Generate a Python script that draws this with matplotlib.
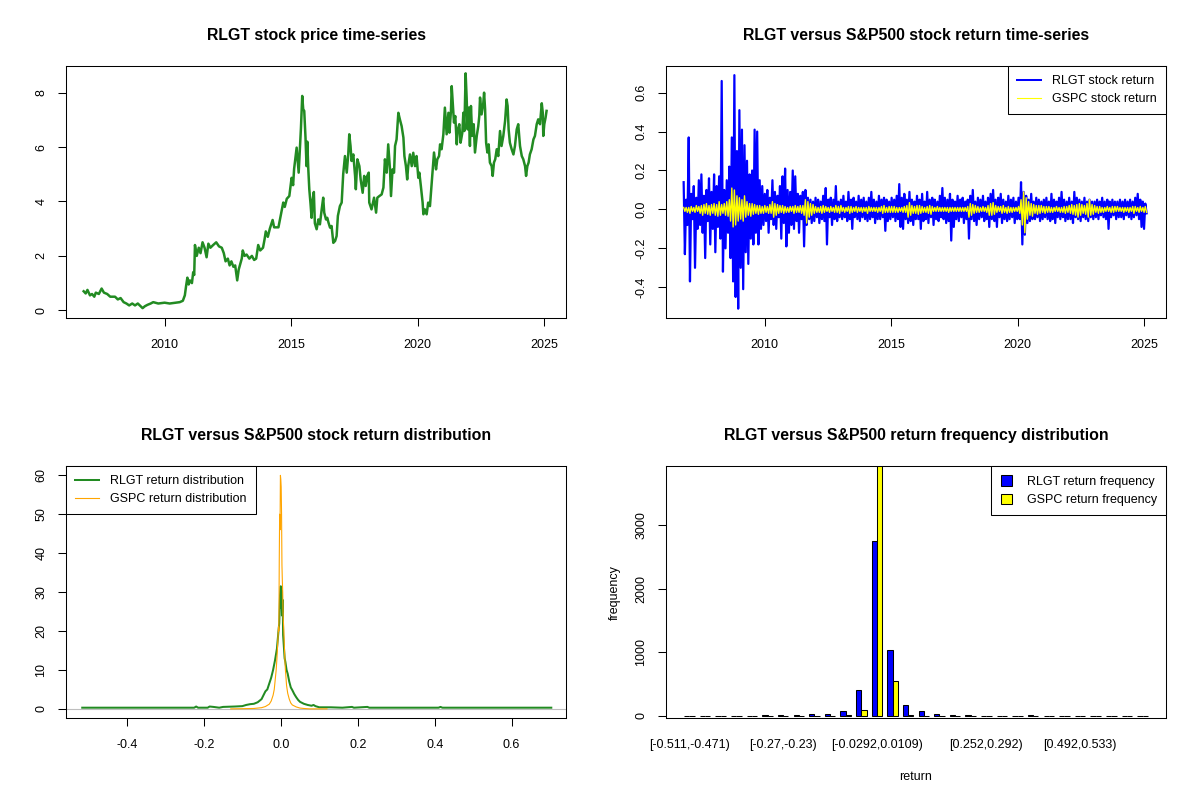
import numpy as np
import pandas as pd
import matplotlib
matplotlib.use("Agg")
import matplotlib.pyplot as plt
from matplotlib.lines import Line2D
from matplotlib.patches import Patch

plt.rcParams["font.family"] = ["Liberation Sans", "DejaVu Sans"]

# ── Data ─────────────────────────────────────────────────────────────────────
# RLGT closing price, decimal year / price
price_year = [
    2006.80, 2006.88, 2006.95, 2007.05, 2007.13, 2007.22, 2007.28, 2007.40, 2007.51, 2007.60,
    2007.73, 2007.85, 2008.04, 2008.15, 2008.26, 2008.38, 2008.49, 2008.60, 2008.72, 2008.83,
    2008.94, 2009.05, 2009.13, 2009.22, 2009.32, 2009.45, 2009.55, 2009.75, 2010.00, 2010.20,
    2010.45, 2010.60, 2010.72, 2010.80, 2010.85, 2010.90, 2010.95, 2011.00, 2011.08, 2011.13,
    2011.17, 2011.20, 2011.27, 2011.35, 2011.42, 2011.50, 2011.58, 2011.66, 2011.73, 2011.81,
    2011.92, 2012.04, 2012.15, 2012.26, 2012.34, 2012.41, 2012.50, 2012.57, 2012.64, 2012.72,
    2012.79, 2012.87, 2012.93, 2012.99, 2013.05, 2013.09, 2013.16, 2013.24, 2013.35, 2013.45,
    2013.54, 2013.62, 2013.70, 2013.78, 2013.89, 2013.95, 2014.00, 2014.08, 2014.16, 2014.27,
    2014.33, 2014.50, 2014.69, 2014.75, 2014.83, 2014.93, 2015.02, 2015.08, 2015.12, 2015.22,
    2015.30, 2015.39, 2015.44, 2015.48, 2015.52, 2015.57, 2015.61, 2015.64, 2015.68, 2015.72,
    2015.77, 2015.81, 2015.85, 2015.90, 2015.94, 2016.01, 2016.08, 2016.14, 2016.21, 2016.27,
    2016.31, 2016.38, 2016.43, 2016.48, 2016.54, 2016.60, 2016.67, 2016.74, 2016.80, 2016.85,
    2016.93, 2017.00, 2017.06, 2017.13, 2017.20, 2017.26, 2017.30, 2017.35, 2017.39, 2017.46,
    2017.53, 2017.56, 2017.62, 2017.70, 2017.75, 2017.83, 2017.89, 2017.95, 2018.01, 2018.07,
    2018.09, 2018.18, 2018.28, 2018.36, 2018.41, 2018.49, 2018.58, 2018.65, 2018.71, 2018.78,
    2018.84, 2018.91, 2018.95, 2019.01, 2019.07, 2019.11, 2019.17, 2019.24, 2019.30, 2019.37,
    2019.44, 2019.48, 2019.54, 2019.59, 2019.63, 2019.70, 2019.77, 2019.83, 2019.90, 2019.96,
    2020.03, 2020.07, 2020.13, 2020.20, 2020.23, 2020.29, 2020.36, 2020.42, 2020.49, 2020.53,
    2020.60, 2020.65, 2020.73, 2020.78, 2020.85, 2020.89, 2020.95, 2021.02, 2021.08, 2021.15,
    2021.22, 2021.26, 2021.32, 2021.35, 2021.39, 2021.44, 2021.49, 2021.55, 2021.58, 2021.65,
    2021.70, 2021.77, 2021.81, 2021.85, 2021.90, 2021.94, 2021.98, 2022.02, 2022.07, 2022.11,
    2022.16, 2022.22, 2022.27, 2022.34, 2022.40, 2022.44, 2022.47, 2022.53, 2022.60, 2022.63,
    2022.67, 2022.71, 2022.76, 2022.81, 2022.86, 2022.93, 2022.97, 2023.02, 2023.07, 2023.13,
    2023.19, 2023.26, 2023.32, 2023.39, 2023.46, 2023.52, 2023.56, 2023.60, 2023.65, 2023.72,
    2023.79, 2023.85, 2023.92, 2023.98, 2024.05, 2024.12, 2024.18, 2024.25, 2024.29, 2024.34,
    2024.39, 2024.44, 2024.51, 2024.58, 2024.64, 2024.71, 2024.77, 2024.84, 2024.91, 2024.95,
    2024.97, 2025.01, 2025.06, 2025.10,
]
price_value = [
    0.70, 0.62, 0.75, 0.55, 0.60, 0.50, 0.65, 0.60, 0.80, 0.65,
    0.60, 0.50, 0.50, 0.40, 0.45, 0.30, 0.25, 0.18, 0.25, 0.18,
    0.25, 0.15, 0.08, 0.15, 0.20, 0.25, 0.30, 0.25, 0.28, 0.25,
    0.28, 0.30, 0.35, 0.55, 0.90, 1.20, 0.95, 1.10, 1.00, 1.40,
    1.30, 2.40, 2.00, 2.30, 2.10, 2.50, 2.30, 1.95, 2.45, 2.30,
    2.40, 2.50, 2.35, 2.30, 2.10, 1.80, 1.90, 1.65, 1.80, 1.60,
    1.65, 1.10, 1.50, 1.70, 1.90, 2.20, 2.00, 2.05, 1.90, 2.00,
    1.85, 1.90, 2.40, 2.20, 2.30, 2.60, 2.90, 2.70, 3.00, 3.32,
    3.05, 3.05, 3.96, 3.80, 4.10, 4.20, 4.87, 4.60, 5.20, 5.98,
    5.06, 6.70, 7.88, 7.39, 7.33, 6.35, 5.30, 6.20, 5.20, 4.45,
    3.90, 3.40, 4.05, 4.35, 3.20, 2.98, 3.34, 3.16, 3.71, 4.14,
    3.59, 3.34, 3.40, 3.22, 3.04, 3.10, 2.48, 2.55, 2.73, 3.47,
    3.83, 3.96, 5.00, 5.67, 5.06, 5.73, 6.47, 6.04, 5.49, 5.73,
    4.94, 4.45, 5.55, 5.30, 4.81, 4.32, 4.94, 4.57, 4.94, 5.06,
    3.96, 3.71, 4.14, 3.59, 4.14, 4.20, 4.26, 4.51, 5.55, 5.06,
    6.10, 5.18, 4.20, 5.18, 5.06, 6.04, 6.28, 7.26, 7.02, 6.77,
    6.35, 5.67, 5.30, 4.81, 5.30, 5.73, 5.30, 5.79, 5.30, 5.67,
    4.87, 5.06, 4.57, 3.96, 3.53, 3.71, 3.53, 3.96, 3.83, 4.32,
    5.18, 5.80, 5.18, 5.55, 5.67, 6.10, 5.92, 6.47, 7.45, 6.47,
    7.26, 6.53, 7.33, 8.24, 7.63, 6.90, 7.14, 6.10, 6.59, 6.84,
    6.16, 6.53, 7.26, 6.59, 8.71, 7.82, 6.65, 7.45, 6.04, 7.51,
    6.41, 6.84, 5.80, 6.41, 6.77, 7.14, 7.82, 7.20, 7.63, 8.00,
    7.39, 6.16, 5.80, 6.10, 5.43, 5.30, 4.94, 5.43, 5.55, 5.92,
    5.67, 6.59, 6.04, 6.41, 6.96, 7.75, 7.51, 6.65, 6.16, 5.92,
    5.73, 6.04, 6.65, 6.84, 6.04, 5.67, 5.55, 5.30, 4.94, 5.30,
    5.43, 5.73, 5.92, 6.28, 6.41, 6.84, 7.02, 6.84, 7.61, 7.26,
    6.41, 6.84, 7.08, 7.33,
]

# daily-return envelope, ~20 observations per year, Oct 2006 .. Feb 2025
return_start, return_end = "2006-10-20", "2025-02-07"
rlgt_return = [
    0.14, -0.23, 0.05, -0.08,
    0.37, -0.37, 0.08, -0.05, 0.12, -0.30, 0.06, -0.10, 0.15, -0.08, 0.18, -0.12, 0.07, -0.25, 0.10, -0.06, 0.16, -0.18, 0.09, -0.10,
    0.18, -0.22, 0.12, -0.09, 0.17, -0.15, 0.66, -0.32, 0.10, -0.20, 0.15, -0.12, 0.22, -0.25, 0.37, -0.37, 0.69, -0.45, 0.30, -0.51,
    0.51, -0.30, 0.41, -0.41, 0.33, -0.22, 0.25, -0.28, 0.18, -0.15, 0.20, -0.18, 0.41, -0.12, 0.40, -0.18, 0.15, -0.10, 0.12, -0.08,
    0.08, -0.06, 0.10, -0.12, 0.06, -0.05, 0.15, -0.08, 0.09, -0.10, 0.07, -0.04, 0.12, -0.15, 0.17, -0.07, 0.21, -0.19, 0.10, -0.12,
    0.09, -0.08, 0.20, -0.10, 0.17, -0.06, 0.08, -0.12, 0.07, -0.05, 0.09, -0.19, 0.10, -0.08, 0.06, -0.05, 0.05, -0.07, 0.04, -0.06,
    0.06, -0.04, 0.05, -0.07, 0.04, -0.05, 0.07, -0.06, 0.11, -0.18, 0.05, -0.04, 0.06, -0.08, 0.05, -0.05, 0.12, -0.06, 0.04, -0.04,
    0.05, -0.05, 0.07, -0.04, 0.04, -0.06, 0.09, -0.05, 0.05, -0.10, 0.06, -0.04, 0.04, -0.05, 0.07, -0.06, 0.05, -0.04, 0.06, -0.05,
    0.04, -0.06, 0.06, -0.05, 0.09, -0.04, 0.05, -0.07, 0.04, -0.05, 0.07, -0.05, 0.05, -0.04, 0.06, -0.11, 0.05, -0.06, 0.04, -0.05,
    0.06, -0.04, 0.05, -0.06, 0.07, -0.05, 0.13, -0.09, 0.06, -0.10, 0.08, -0.05, 0.05, -0.07, 0.09, -0.06, 0.05, -0.08, 0.04, -0.05,
    0.07, -0.05, 0.05, -0.10, 0.08, -0.06, 0.04, -0.05, 0.09, -0.07, 0.05, -0.04, 0.06, -0.08, 0.05, -0.05, 0.04, -0.06, 0.07, -0.04,
    0.11, -0.05, 0.06, -0.07, 0.05, -0.06, 0.08, -0.16, 0.05, -0.09, 0.04, -0.05, 0.07, -0.06, 0.05, -0.04, 0.06, -0.07, 0.04, -0.05,
    0.05, -0.15, 0.07, -0.05, 0.10, -0.06, 0.04, -0.08, 0.06, -0.05, 0.05, -0.04, 0.07, -0.06, 0.04, -0.05, 0.06, -0.09, 0.08, -0.05,
    0.10, -0.06, 0.05, -0.09, 0.06, -0.04, 0.08, -0.07, 0.05, -0.05, 0.04, -0.06, 0.07, -0.05, 0.05, -0.04, 0.06, -0.07, 0.04, -0.05,
    0.06, -0.05, 0.14, -0.18, 0.09, -0.13, 0.07, -0.07, 0.05, -0.06, 0.08, -0.05, 0.04, -0.05, 0.06, -0.04, 0.05, -0.06, 0.04, -0.05,
    0.05, -0.04, 0.06, -0.05, 0.04, -0.06, 0.08, -0.05, 0.05, -0.07, 0.04, -0.04, 0.06, -0.05, 0.09, -0.04, 0.05, -0.06, 0.04, -0.05,
    0.06, -0.05, 0.04, -0.07, 0.09, -0.04, 0.06, -0.05, 0.05, -0.06, 0.04, -0.04, 0.06, -0.05, 0.04, -0.06, 0.05, -0.04, 0.04, -0.05,
    0.04, -0.04, 0.05, -0.05, 0.04, -0.03, 0.06, -0.04, 0.04, -0.05, 0.05, -0.10, 0.04, -0.04, 0.05, -0.03, 0.04, -0.05, 0.04, -0.04,
    0.05, -0.04, 0.04, -0.05, 0.05, -0.03, 0.04, -0.04, 0.05, -0.05, 0.04, -0.04, 0.06, -0.03, 0.08, -0.05, 0.05, -0.09, 0.04, -0.10,
    0.03, -0.02,
]
gspc_return = [
    0.010, -0.010, 0.010, -0.015,
    0.010, -0.020, 0.015, -0.010, 0.010, -0.015, 0.020, -0.010, 0.015, -0.020, 0.020, -0.030, 0.025, -0.020, 0.030, -0.025, 0.020, -0.030, 0.025, -0.020,
    0.030, -0.030, 0.025, -0.035, 0.040, -0.030, 0.025, -0.020, 0.030, -0.030, 0.040, -0.035, 0.050, -0.060, 0.110, -0.090, 0.100, -0.080, 0.070, -0.060,
    0.060, -0.050, 0.050, -0.060, 0.070, -0.040, 0.040, -0.030, 0.030, -0.035, 0.030, -0.025, 0.025, -0.020, 0.020, -0.025, 0.020, -0.020, 0.015, -0.020,
    0.020, -0.015, 0.015, -0.020, 0.025, -0.020, 0.040, -0.040, 0.030, -0.030, 0.025, -0.020, 0.020, -0.015, 0.020, -0.020, 0.015, -0.015, 0.010, -0.015,
    0.015, -0.010, 0.015, -0.020, 0.020, -0.015, 0.015, -0.015, 0.020, -0.020, 0.020, -0.030, 0.050, -0.070, 0.040, -0.040, 0.030, -0.030, 0.025, -0.020,
    0.015, -0.015, 0.010, -0.015, 0.015, -0.020, 0.020, -0.015, 0.015, -0.010, 0.010, -0.015, 0.015, -0.010, 0.010, -0.015, 0.020, -0.015, 0.015, -0.020,
    0.020, -0.010, 0.010, -0.015, 0.010, -0.010, 0.015, -0.020, 0.015, -0.015, 0.010, -0.010, 0.015, -0.015, 0.010, -0.010, 0.010, -0.015, 0.010, -0.010,
    0.010, -0.020, 0.015, -0.010, 0.010, -0.010, 0.010, -0.010, 0.010, -0.015, 0.010, -0.010, 0.015, -0.020, 0.020, -0.015, 0.010, -0.015, 0.015, -0.015,
    0.015, -0.015, 0.015, -0.015, 0.010, -0.015, 0.010, -0.010, 0.010, -0.015, 0.015, -0.015, 0.020, -0.040, 0.035, -0.030, 0.020, -0.020, 0.015, -0.020,
    0.020, -0.025, 0.020, -0.020, 0.015, -0.015, 0.010, -0.015, 0.015, -0.020, 0.020, -0.025, 0.015, -0.010, 0.010, -0.010, 0.015, -0.010, 0.010, -0.010,
    0.010, -0.010, 0.010, -0.010, 0.010, -0.015, 0.010, -0.010, 0.010, -0.010, 0.010, -0.010, 0.010, -0.010, 0.010, -0.010, 0.010, -0.010, 0.010, -0.010,
    0.015, -0.040, 0.030, -0.030, 0.025, -0.020, 0.020, -0.015, 0.015, -0.015, 0.010, -0.010, 0.015, -0.010, 0.010, -0.015, 0.020, -0.030, 0.030, -0.030,
    0.035, -0.025, 0.020, -0.015, 0.015, -0.010, 0.015, -0.020, 0.020, -0.015, 0.010, -0.020, 0.015, -0.015, 0.010, -0.015, 0.010, -0.010, 0.010, -0.010,
    0.015, -0.020, 0.050, -0.080, 0.090, -0.120, 0.060, -0.050, 0.040, -0.030, 0.030, -0.035, 0.025, -0.020, 0.020, -0.025, 0.020, -0.020, 0.020, -0.015,
    0.015, -0.020, 0.015, -0.015, 0.015, -0.015, 0.010, -0.015, 0.010, -0.010, 0.015, -0.010, 0.010, -0.015, 0.010, -0.015, 0.015, -0.020, 0.015, -0.015,
    0.020, -0.020, 0.025, -0.025, 0.020, -0.030, 0.025, -0.040, 0.030, -0.030, 0.025, -0.020, 0.020, -0.025, 0.030, -0.040, 0.050, -0.030, 0.025, -0.025,
    0.020, -0.015, 0.015, -0.020, 0.015, -0.015, 0.010, -0.015, 0.010, -0.010, 0.015, -0.010, 0.010, -0.015, 0.015, -0.015, 0.015, -0.010, 0.015, -0.010,
    0.010, -0.010, 0.010, -0.015, 0.010, -0.010, 0.010, -0.015, 0.010, -0.010, 0.015, -0.020, 0.015, -0.010, 0.010, -0.015, 0.015, -0.010, 0.010, -0.015,
    0.015, -0.015,
]

# kernel density of the returns
rlgt_dens_x = [
    -0.516, -0.300, -0.225, -0.220, -0.215, -0.190, -0.185, -0.175, -0.160, -0.150,
    -0.120, -0.100, -0.090, -0.080, -0.070, -0.060, -0.050, -0.045, -0.040, -0.035,
    -0.030, -0.025, -0.020, -0.015, -0.010, -0.006, -0.004, -0.002, 0.000, 0.001,
    0.002, 0.003, 0.005, 0.006, 0.008, 0.010, 0.012, 0.015, 0.018, 0.022,
    0.026, 0.030, 0.035, 0.040, 0.045, 0.050, 0.060, 0.070, 0.080, 0.085,
    0.090, 0.100, 0.130, 0.160, 0.185, 0.190, 0.225, 0.230, 0.410, 0.415,
    0.420, 0.703,
]
rlgt_dens_y = [
    0.3, 0.3, 0.3, 0.6, 0.3, 0.3, 0.6, 0.5, 0.3, 0.5,
    0.6, 0.7, 1.0, 1.2, 1.3, 1.7, 2.5, 3.5, 4.5, 5.0,
    6.5, 8.0, 10.0, 12.5, 15.5, 20.0, 22.0, 29.0, 31.5, 26.0,
    30.5, 24.0, 28.0, 19.0, 16.0, 13.0, 12.0, 10.0, 9.0, 7.0,
    5.5, 4.8, 3.8, 3.0, 2.3, 1.8, 1.3, 1.0, 0.8, 1.0,
    0.7, 0.4, 0.4, 0.3, 0.5, 0.3, 0.5, 0.3, 0.3, 0.5,
    0.3, 0.3,
]
gspc_dens_x = [
    -0.130, -0.095, -0.070, -0.050, -0.040, -0.030, -0.025, -0.020, -0.017, -0.014,
    -0.012, -0.010, -0.008, -0.006, -0.005, -0.004, -0.003, -0.002, -0.001, 0.000,
    0.001, 0.002, 0.003, 0.004, 0.005, 0.006, 0.008, 0.010, 0.012, 0.015,
    0.018, 0.022, 0.026, 0.030, 0.040, 0.050, 0.060, 0.075, 0.120,
]
gspc_dens_y = [
    0.0, 0.05, 0.1, 0.3, 0.6, 1.2, 2.0, 3.5, 5.0, 8.0,
    10.0, 13.0, 17.0, 21.0, 20.0, 38.0, 50.0, 46.0, 60.0, 59.0,
    57.0, 50.0, 37.0, 33.0, 30.0, 24.0, 20.0, 14.0, 10.0, 6.0,
    4.0, 2.5, 1.5, 1.0, 0.5, 0.2, 0.1, 0.0, 0.0,
]

# frequency table of returns in 30 equal-width bins
bin_labels = [
    "[-0.511,-0.471)", "[-0.471,-0.431)", "[-0.431,-0.391)", "[-0.391,-0.351)", "[-0.351,-0.311)",
    "[-0.311,-0.27)", "[-0.27,-0.23)", "[-0.23,-0.19)", "[-0.19,-0.15)", "[-0.15,-0.11)",
    "[-0.11,-0.0694)", "[-0.0694,-0.0292)", "[-0.0292,0.0109)", "[0.0109,0.0511)", "[0.0511,0.0913)",
    "[0.0913,0.131)", "[0.131,0.172)", "[0.172,0.212)", "[0.212,0.252)", "[0.252,0.292)",
    "[0.292,0.332)", "[0.332,0.372)", "[0.372,0.412)", "[0.412,0.452)", "[0.452,0.492)",
    "[0.492,0.533)", "[0.533,0.573)", "[0.573,0.613)", "[0.613,0.653)", "[0.653,0.693)",
]
rlgt_freq = [1, 0, 0, 0, 0, 15, 15, 15, 30, 25,
             80, 410, 2750, 1030, 175, 70, 35, 15, 12, 0,
             0, 0, 10, 0, 0, 0, 0, 0, 0, 1]
gspc_freq = [0, 0, 0, 0, 0, 0, 0, 0, 0, 0,
             15, 95, 4000, 550, 15, 3, 1, 0, 0, 0,
             0, 0, 0, 0, 0, 0, 0, 0, 0, 0]
shown_bins = [0, 6, 12, 19, 25]

# ── Helpers ──────────────────────────────────────────────────────────────────
TICK_FS = 9
TITLE_FS = 11.4


def r_axes(ax, title):
    """Base-R look: plain box, outward ticks, rotated y labels."""
    for s in ax.spines.values():
        s.set_linewidth(0.75)
        s.set_color("black")
    ax.tick_params(direction="out", length=5.8, width=0.75,
                   labelsize=TICK_FS, colors="black")
    ax.tick_params(axis="x", pad=9)
    ax.tick_params(axis="y", pad=7.5)
    ax.set_title(title, fontsize=TITLE_FS, fontweight="bold", pad=18.5)


def set_yticks(ax, ticks, labels):
    ax.set_yticks(ticks, labels, rotation=90, va="center")


def r_legend(ax, handles, labels, loc, **kw):
    leg = ax.legend(handles, labels, loc=loc, borderaxespad=0, fancybox=False,
                    framealpha=1, edgecolor="black", fontsize=TICK_FS,
                    labelspacing=0.45, borderpad=0.75, **kw)
    leg.get_frame().set_linewidth(0.75)
    return leg


def decimal_year(idx):
    return idx.year + (idx.dayofyear - 1) / 365.25


# ── Figure ───────────────────────────────────────────────────────────────────
fig = plt.figure(figsize=(12, 8), dpi=100)
W, H = 500.6 / 1200, 252.2 / 800
ax1 = fig.add_axes([65.7 / 1200, 0.60225, W, H])
ax2 = fig.add_axes([665.7 / 1200, 0.60225, W, H])
ax3 = fig.add_axes([65.7 / 1200, 0.10225, W, H])
ax4 = fig.add_axes([665.7 / 1200, 0.10225, W, H])

year_ticks = [2010, 2015, 2020, 2025]

# 1. price
ax1.plot(price_year, price_value, color="forestgreen", lw=1.8)
ax1.set_xlim(2006.09, 2025.88)
ax1.set_ylim(-0.29, 8.98)
ax1.set_xticks(year_ticks, [str(y) for y in year_ticks])
set_yticks(ax1, [0, 2, 4, 6, 8], ["0", "2", "4", "6", "8"])
r_axes(ax1, "RLGT stock price time-series")

# 2. returns
rx = decimal_year(pd.date_range(return_start, return_end, periods=len(rlgt_return)))
gx = decimal_year(pd.date_range(return_start, return_end, periods=len(gspc_return)))
ax2.plot(rx, rlgt_return, color="blue", lw=1.6)
ax2.plot(gx, gspc_return, color="yellow", lw=1.0)
ax2.set_xlim(2006.09, 2025.88)
ax2.set_ylim(-0.559, 0.737)
ax2.set_xticks(year_ticks, [str(y) for y in year_ticks])
set_yticks(ax2, [-0.4, -0.2, 0.0, 0.2, 0.4, 0.6],
           ["-0.4", "-0.2", "0.0", "0.2", "0.4", "0.6"])
r_axes(ax2, "RLGT versus S&P500 stock return time-series")
r_legend(ax2,
         [Line2D([], [], color="blue", lw=1.45), Line2D([], [], color="yellow", lw=0.8)],
         ["RLGT stock return", "GSPC stock return"], "upper right",
         handlelength=1.9, handletextpad=0.9)

# 3. density
ax3.plot(rlgt_dens_x, rlgt_dens_y, color="forestgreen", lw=1.45)
ax3.axhline(0, color="#BEBEBE", lw=0.8, zorder=1)
ax3.plot(gspc_dens_x, gspc_dens_y, color="orange", lw=0.8)
ax3.set_xlim(-0.559, 0.742)
ax3.set_ylim(-2.4, 62.4)
ax3.set_xticks([-0.4, -0.2, 0.0, 0.2, 0.4, 0.6],
               ["-0.4", "-0.2", "0.0", "0.2", "0.4", "0.6"])
set_yticks(ax3, [0, 10, 20, 30, 40, 50, 60],
           ["0", "10", "20", "30", "40", "50", "60"])
r_axes(ax3, "RLGT versus S&P500 stock return distribution")
r_legend(ax3,
         [Line2D([], [], color="forestgreen", lw=1.45), Line2D([], [], color="orange", lw=0.8)],
         ["RLGT return distribution", "GSPC return distribution"], "upper left",
         handlelength=1.9, handletextpad=0.9)

# 4. frequency bars (R barplot, beside=TRUE)
grp = np.arange(1, len(bin_labels) + 1)
ax4.bar(3 * grp - 1.5, rlgt_freq, width=1, color="blue", edgecolor="black", lw=0.75)
ax4.bar(3 * grp - 0.5, gspc_freq, width=1, color="yellow", edgecolor="black", lw=0.75)
ax4.set_xlim(-2.56, 93.56)
ax4.set_ylim(-37, 3932)
ax4.set_xticks([3 * grp[i] - 1 for i in shown_bins], [bin_labels[i] for i in shown_bins])
set_yticks(ax4, [0, 1000, 2000, 3000], ["0", "1000", "2000", "3000"])
r_axes(ax4, "RLGT versus S&P500 return frequency distribution")
ax4.tick_params(axis="x", length=0, pad=15)
ax4.set_xlabel("return", fontsize=TICK_FS, va="top")
ax4.xaxis.set_label_coords(0.5, -0.21)
ax4.set_ylabel("frequency", fontsize=TICK_FS)
ax4.yaxis.set_label_coords(-0.09, 0.5)
r_legend(ax4,
         [Patch(facecolor="blue", edgecolor="black", lw=0.75),
          Patch(facecolor="yellow", edgecolor="black", lw=0.75)],
         ["RLGT return frequency", "GSPC return frequency"], "upper right",
         handlelength=0.9, handleheight=0.9, handletextpad=1.2)

fig.savefig("out.png", dpi=100)
